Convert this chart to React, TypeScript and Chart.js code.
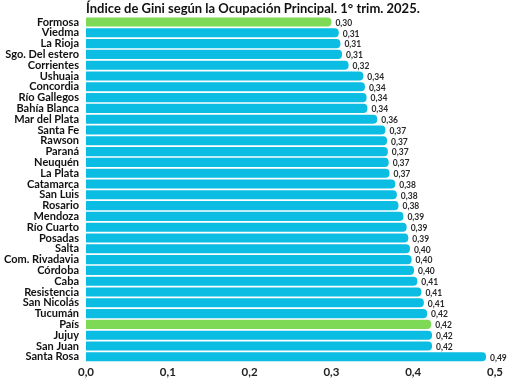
import React, { useEffect, useRef } from "react";
import { Chart, registerables } from "chart.js";

Chart.register(...registerables);

const categories = [
  "Formosa", "Viedma", "La Rioja", "Sgo. Del estero", "Corrientes", "Ushuaia", "Concordia",
  "Río Gallegos", "Bahía Blanca", "Mar del Plata", "Santa Fe", "Rawson", "Paraná", "Neuquén",
  "La Plata", "Catamarca", "San Luis", "Rosario", "Mendoza", "Río Cuarto", "Posadas", "Salta",
  "Com. Rivadavia", "Córdoba", "Caba", "Resistencia", "San Nicolás", "Tucumán", "País",
  "Jujuy", "San Juan", "Santa Rosa",
];

const giniValues = [
  0.300, 0.309, 0.311, 0.313, 0.321, 0.339, 0.341, 0.343, 0.344, 0.356, 0.366, 0.368, 0.369,
  0.370, 0.371, 0.378, 0.380, 0.382, 0.388, 0.392, 0.394, 0.396, 0.398, 0.401, 0.405, 0.410,
  0.413, 0.417, 0.422, 0.423, 0.423, 0.489,
];

const highlighted = ["Formosa", "País"];

const xTicks = [0, 0.1, 0.2, 0.3, 0.4, 0.5];

const titleText = "Índice de Gini según la Ocupación Principal. 1° trim. 2025.";

const CYAN = "#0BBDE2";
const GREEN = "#7ED957";
const FONT = "Lato, 'Open Sans', sans-serif";

const fmt = (v: number, d: number) => v.toFixed(d).replace(".", ",");

const valueLabels = {
  id: "valueLabels",
  afterDatasetsDraw(chart: any) {
    const ctx = chart.ctx;
    const meta = chart.getDatasetMeta(0);
    ctx.save();
    ctx.font = `bold 8.5px ${FONT}`;
    ctx.fillStyle = "#2a2a2a";
    ctx.textAlign = "left";
    ctx.textBaseline = "middle";
    meta.data.forEach((el: any, i: number) => {
      ctx.fillText(fmt(giniValues[i], 2), el.x + 4, el.y + 1);
    });
    ctx.restore();
  },
};

export default function App() {
  const ref = useRef<HTMLCanvasElement | null>(null);
  useEffect(() => {
    document.body.style.margin = "0";
    if (!ref.current) return;
    const chart = new Chart(ref.current, {
      type: "bar",
      data: {
        labels: categories,
        datasets: [
          {
            data: giniValues,
            backgroundColor: categories.map((c) => (highlighted.includes(c) ? GREEN : CYAN)),
            borderRadius: { topRight: 4, bottomRight: 4, topLeft: 0, bottomLeft: 0 },
            borderSkipped: false,
            categoryPercentage: 1,
            barPercentage: 0.84,
          },
        ],
      },
      options: {
        indexAxis: "y",
        animation: false,
        responsive: false,
        maintainAspectRatio: false,
        layout: { padding: { left: 2, right: 33, top: 1, bottom: 6 } },
        plugins: {
          legend: { display: false },
          tooltip: { enabled: false },
          title: {
            display: true,
            text: titleText,
            align: "start",
            fullSize: false,
            color: "#111111",
            font: { family: FONT, size: 13, weight: "bold" },
            padding: { top: 0, bottom: 0 },
          },
        },
        scales: {
          x: {
            min: 0,
            max: 0.5,
            afterBuildTicks: (axis: any) => {
              axis.ticks = xTicks.map((v) => ({ value: v }));
            },
            ticks: {
              callback: (v: any) => fmt(Number(v), 1),
              color: "#222222",
              font: { family: FONT, size: 11.5, weight: "bold" },
              padding: 3,
            },
            grid: { display: false, drawTicks: false },
            border: { display: false },
          },
          y: {
            afterFit: (axis: any) => {
              axis.width = 84;
            },
            ticks: {
              color: "#111111",
              font: { family: FONT, size: 11, weight: "bold" },
              padding: 7,
              autoSkip: false,
            },
            grid: { display: false, drawTicks: false },
            border: { display: false },
          },
        },
      },
      plugins: [valueLabels],
    });
    return () => chart.destroy();
  }, []);
  return <canvas ref={ref} width={528} height={388} style={{ display: "block" }} />;
}
